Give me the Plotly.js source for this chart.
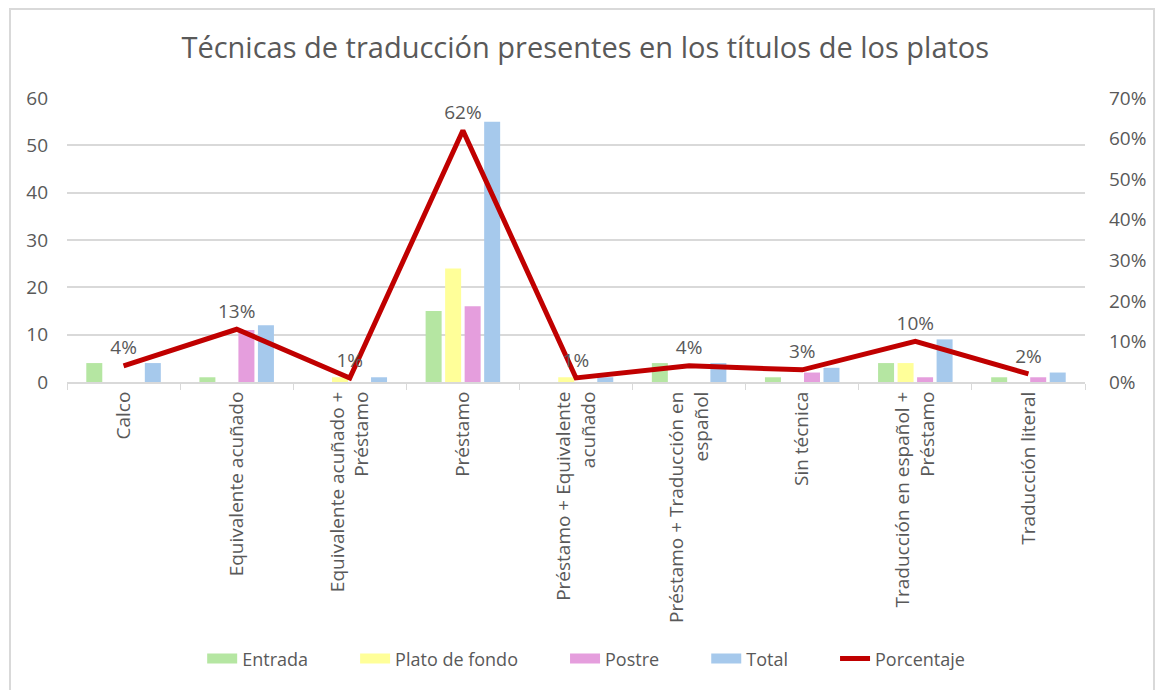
<!DOCTYPE html>
<html>
<head>
<meta charset="utf-8">
<script src="https://cdn.plot.ly/plotly-3.0.1.min.js"></script>
<style>
html,body{margin:0;padding:0;background:#fff;}
#chart{position:absolute;left:0;top:0;width:1159px;height:690px;}
#frame{position:absolute;left:9px;top:8px;width:1146px;height:690px;border:2px solid #d9d9d9;box-sizing:border-box;pointer-events:none;}
</style>
</head>
<body>
<div id="chart"></div>
<div id="frame"></div>
<script>
const categories = [
  "Calco",
  "Equivalente acuñado",
  "Equivalente acuñado +<br>Préstamo",
  "Préstamo",
  "Préstamo + Equivalente<br>acuñado",
  "Préstamo + Traducción en<br>español",
  "Sin técnica",
  "Traducción en español +<br>Préstamo",
  "Traducción literal"
];
const entrada      = [4, 1, 0, 15, 0, 4, 1, 4, 1];
const platoDeFondo = [0, 0, 1, 24, 1, 0, 0, 4, 0];
const postre       = [0, 11, 0, 16, 0, 0, 2, 1, 1];
const total        = [4, 12, 1, 55, 1, 4, 3, 9, 2];
const porcentaje   = [0.04, 0.13, 0.01, 0.62, 0.01, 0.04, 0.03, 0.10, 0.02];
const porcentajeLabels = ["4%", "13%", "1%", "62%", "1%", "4%", "3%", "10%", "2%"];
const seriesNames  = ["Entrada", "Plato de fondo", "Postre", "Total"];
const seriesColors = ["#b5e6a2", "#ffff99", "#e59edd", "#a6c9ec"];
const leftTicks = [0, 10, 20, 30, 40, 50, 60];
const rightTicks = [0, 0.1, 0.2, 0.3, 0.4, 0.5, 0.6, 0.7];
const rightTickLabels = ["0%", "10%", "20%", "30%", "40%", "50%", "60%", "70%"];

const FONT = "Open Sans, Liberation Sans, sans-serif";
const GRAY = "#595959";
const seriesValues = [entrada, platoDeFondo, postre, total];
const PAD = "\u00a0".repeat(9);

const data = [];
seriesNames.forEach((name, i) => {
  data.push({
    type: "bar", name: name, x: categories, y: seriesValues[i],
    marker: {color: seriesColors[i]}, hoverinfo: "skip",
    showlegend: false, legendgroup: name
  });
});
// legend entries with wide swatches (draw nothing on the plot)
seriesNames.forEach((name, i) => {
  data.push({
    type: "scatter", mode: "lines", name: name + PAD, x: [categories[0]], y: [null],
    line: {color: seriesColors[i], width: 10}, legendgroup: name,
    hoverinfo: "skip", showlegend: true
  });
});
data.push({
  type: "scatter", mode: "lines+markers+text", name: "Porcentaje",
  x: categories, y: porcentaje, yaxis: "y2",
  line: {color: "#c00000", width: 5},
  marker: {size: 9, color: "rgba(0,0,0,0)"},
  text: porcentajeLabels, textposition: "top center",
  textfont: {family: FONT, size: 19, color: GRAY},
  hoverinfo: "skip", cliponaxis: false
});

const layout = {
  width: 1159, height: 690,
  paper_bgcolor: "#ffffff", plot_bgcolor: "#ffffff",
  font: {family: FONT, color: GRAY, size: 18},
  margin: {l: 67, r: 74, t: 98, b: 308},
  title: {
    text: "Técnicas de traducción presentes en los títulos de los platos",
    font: {family: FONT, size: 29, color: GRAY},
    x: 0.505, xanchor: "center", y: 0.93, yanchor: "middle", yref: "container"
  },
  barmode: "group", bargap: 0.31, bargroupgap: 0.18,
  xaxis: {
    type: "category", tickangle: -90,
    tickfont: {family: FONT, size: 19, color: GRAY},
    showline: true, linecolor: "#d9d9d9", linewidth: 2,
    ticks: "outside", tickson: "boundaries", ticklen: 6, tickcolor: "#d9d9d9",
    showgrid: false, zeroline: false, fixedrange: true
  },
  yaxis: {
    range: [0, 60], tickvals: leftTicks,
    tickfont: {family: FONT, size: 19, color: GRAY},
    showgrid: true, gridcolor: "#d9d9d9", gridwidth: 2,
    zeroline: false, showline: false, ticks: "", ticklabelstandoff: 18,
    fixedrange: true
  },
  yaxis2: {
    overlaying: "y", side: "right", range: [0, 0.7],
    tickvals: rightTicks, ticktext: rightTickLabels,
    tickfont: {family: FONT, size: 19, color: GRAY},
    showgrid: false, zeroline: false, showline: false, ticks: "",
    ticklabelstandoff: 23, fixedrange: true
  },
  showlegend: true,
  legend: {
    orientation: "h", x: 0.51, xanchor: "center",
    y: -0.975, yanchor: "middle",
    font: {family: FONT, size: 18, color: GRAY},
    traceorder: "normal", itemwidth: 30
  }
};

Plotly.newPlot("chart", data, layout, {displayModeBar: false, staticPlot: true});
</script>
</body>
</html>
